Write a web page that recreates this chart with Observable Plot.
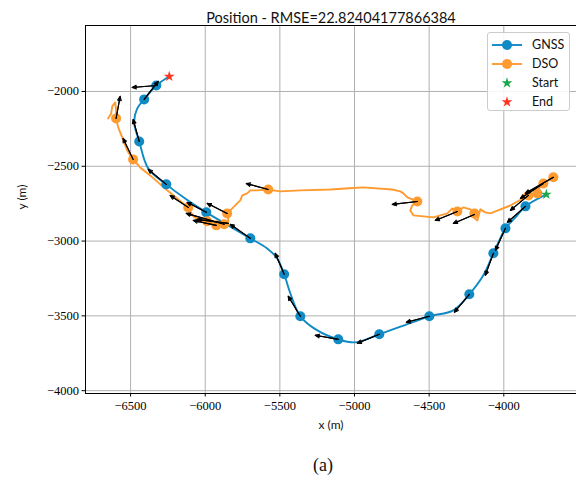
<!DOCTYPE html>
<html>
<head>
<meta charset="utf-8">
<script src="https://cdn.jsdelivr.net/npm/d3@7"></script>
<script src="https://cdn.jsdelivr.net/npm/@observablehq/plot@0.6"></script>
<style>
  body { margin: 0; background: white; }
  #wrap { position: relative; width: 576px; height: 486px; }
  #legend { position: absolute; left: 487px; top: 32px; width: 83px; height: 79px;
    border: 1px solid #cccccc; border-radius: 3px; background: rgba(255,255,255,0.85);
    font-family: Lato, sans-serif; font-size: 12.5px; color: #111; box-sizing: border-box; }
  .row { position: absolute; left: 0; height: 18px; width: 100%; }
  .row svg { position: absolute; left: 3px; top: 0; }
  .row span { position: absolute; left: 44px; top: 1px; line-height: 16px; }
</style>
</head>
<body>
<div id="wrap"></div>
<script>
// ---- data (metres) ----
const xTicks = [-6500, -6000, -5500, -5000, -4500, -4000];
const yTicks = [-4000, -3500, -3000, -2500, -2000];
const xDomain = [-6802, -3513];
const yDomain = [-4019, -1559];

const gnssX = [-3715,-3855,-3922,-3989,-4030,-4070,-4137,-4231,-4338,-4499,-4666,-4834,-4995,-5109,-5249,-5363,-5430,-5471,-5518,-5585,-5698,-5846,-5993,-6127,-6261,-6382,-6442,-6476,-6456,-6409,-6328,-6241];
const gnssY = [-2688,-2768,-2842,-2915,-2995,-3082,-3229,-3356,-3463,-3503,-3563,-3623,-3677,-3657,-3597,-3503,-3349,-3222,-3116,-3049,-2982,-2895,-2808,-2721,-2621,-2514,-2334,-2207,-2114,-2053,-1960,-1900];
const gnssMarkX = [-3855,-3989,-4070,-4231,-4499,-4834,-5109,-5363,-5471,-5698,-5993,-6261,-6442,-6409,-6328];
const gnssMarkY = [-2768,-2915,-3082,-3356,-3503,-3623,-3657,-3503,-3222,-2982,-2808,-2621,-2334,-2053,-1960];

const dsoX = [-3668,-3735,-3775,-3775,-3835,-3956,-4056,-4090,-4124,-4157,-4177,-4211,-4197,-4224,-4271,-4311,-4345,-4378,-4472,-4606,-4626,-4613,-4579,-4646,-4673,-4693,-4747,-4941,-5008,-5162,-5363,-5497,-5578,-5652,-5698,-5719,-5752,-5765,-5786,-5812,-5853,-5846,-5846,-5873,-5926,-5953,-5987,-6034,-6080,-6114,-6255,-6369,-6436,-6483,-6523,-6556,-6583,-6597,-6597,-6603,-6623,-6630,-6650];
const dsoY = [-2574,-2615,-2661,-2681,-2695,-2762,-2802,-2815,-2808,-2788,-2862,-2835,-2815,-2788,-2775,-2802,-2782,-2815,-2842,-2828,-2795,-2762,-2735,-2708,-2681,-2668,-2655,-2641,-2645,-2655,-2661,-2668,-2655,-2661,-2661,-2681,-2695,-2728,-2748,-2775,-2815,-2842,-2882,-2888,-2895,-2882,-2868,-2862,-2835,-2775,-2661,-2561,-2508,-2454,-2394,-2307,-2240,-2180,-2127,-2073,-2100,-2147,-2180];
const dsoMarkX = [-3668,-3735,-3775,-3835,-4197,-4311,-4579,-5578,-5853,-5873,-5926,-5987,-6114,-6483,-6597];
const dsoMarkY = [-2574,-2615,-2681,-2695,-2815,-2802,-2735,-2655,-2815,-2888,-2895,-2868,-2775,-2454,-2180];

// heading arrows (tail -> head)
const arrX1 = [-6328,-6409,-6597,-6442,-6483,-6261,-6114,-5993,-5853,-5873,-5926,-5846,-5698,-5578,-5471,-5363,-5109,-4834,-4499,-4231,-4070,-3989,-3855,-3835,-3668,-3735,-4579,-4311,-4197];
const arrY1 = [-1960,-2053,-2180,-2334,-2454,-2621,-2775,-2808,-2815,-2888,-2895,-2882,-2982,-2655,-3222,-3503,-3657,-3623,-3503,-3356,-3082,-2915,-2768,-2695,-2574,-2615,-2735,-2802,-2822];
const arrX2 = [-6489,-6315,-6570,-6483,-6550,-6382,-6235,-6121,-5987,-6127,-6080,-6054,-5832,-5725,-5531,-5444,-5263,-4981,-4653,-4331,-4124,-4056,-3976,-3956,-3855,-3889,-4747,-4459,-4338];
const arrY2 = [-1973,-1933,-2033,-2187,-2314,-2521,-2695,-2741,-2748,-2815,-2862,-2855,-2888,-2615,-3082,-3369,-3630,-3683,-3543,-3476,-3229,-3062,-2875,-2795,-2681,-2715,-2755,-2862,-2882];

const startPt = [-3715, -2688];
const endPt = [-6241, -1900];

const title = "Position - RMSE=22.82404177866384";
const xLabel = "x (m)";
const yLabel = "y (m)";
const caption = "(a)";
const legendLabels = ["GNSS", "DSO", "Start", "End"];

// ---- colours ----
const BLUE = "#0f8ac4", ORANGE = "#ff9a2f", GREEN = "#1aa64a", RED = "#ff3322";

const gnss = gnssX.map((x, i) => ({x, y: gnssY[i]}));
const gnssM = gnssMarkX.map((x, i) => ({x, y: gnssMarkY[i]}));
const dso = dsoX.map((x, i) => ({x, y: dsoY[i]}));
const dsoM = dsoMarkX.map((x, i) => ({x, y: dsoMarkY[i]}));
const arrows = arrX1.map((x1, i) => ({x1, y1: arrY1[i], x2: arrX2[i], y2: arrY2[i]}));

const fmt = d3.format("d");
const serif = "'Liberation Serif', serif";
const sans = "Lato, sans-serif";

const chart = Plot.plot({
  width: 576, height: 486,
  marginTop: 25, marginBottom: 93, marginLeft: 85, marginRight: 0,
  x: {domain: xDomain},
  y: {domain: yDomain},
  style: {background: "white", overflow: "visible"},
  marks: [
    Plot.gridX(xTicks, {stroke: "#b0b0b0", strokeOpacity: 1, strokeWidth: 1}),
    Plot.gridY(yTicks, {stroke: "#b0b0b0", strokeOpacity: 1, strokeWidth: 1}),
    Plot.line(gnss, {x: "x", y: "y", stroke: BLUE, strokeWidth: 1.9, curve: "catmull-rom"}),
    Plot.line(dso, {x: "x", y: "y", stroke: ORANGE, strokeWidth: 1.9, curve: "linear"}),
    Plot.dot(gnssM, {x: "x", y: "y", r: 5, fill: BLUE}),
    Plot.dot(dsoM, {x: "x", y: "y", r: 5, fill: ORANGE}),
    Plot.arrow(arrows, {x1: "x1", y1: "y1", x2: "x2", y2: "y2", stroke: "black", strokeWidth: 1.1, headLength: 6, headAngle: 50}),
    Plot.arrow(arrows, {x1: "x1", y1: "y1", x2: "x2", y2: "y2", stroke: "black", strokeWidth: 1.1, headLength: 6, headAngle: 25}),
    Plot.dot([startPt], {x: d => d[0], y: d => d[1], symbol: "star", r: 3.4, fill: GREEN}),
    Plot.dot([endPt], {x: d => d[0], y: d => d[1], symbol: "star", r: 3.4, fill: RED}),
    Plot.ruleY([yDomain[0]], {stroke: "black", strokeWidth: 1}),
    Plot.ruleY([yDomain[1]], {stroke: "black", strokeWidth: 1}),
    Plot.ruleX([xDomain[0]], {stroke: "black", strokeWidth: 1}),
    Plot.axisX({ticks: xTicks, tickFormat: fmt, label: null, fontFamily: serif, fontSize: 12.5, tickSize: 3.5, tickPadding: 4}),
    Plot.axisY({ticks: yTicks, tickFormat: fmt, label: null, fontFamily: serif, fontSize: 12.5, tickSize: 3.5, tickPadding: 3}),
    Plot.text([title], {frameAnchor: "top", dy: -13, fontFamily: sans, fontSize: 14.5, fill: "#111"}),
    Plot.text([xLabel], {frameAnchor: "bottom", dy: 35, fontFamily: sans, fontSize: 12, fill: "#111"}),
    Plot.text([yLabel], {frameAnchor: "left", dx: -63, rotate: -90, fontFamily: sans, fontSize: 12, fill: "#111"}),
    Plot.text([caption], {frameAnchor: "bottom", dy: 77, dx: -8, fontFamily: serif, fontSize: 18, fill: "#111"})
  ]
});
document.getElementById("wrap").appendChild(chart);

// ---- legend ----
const legend = document.createElement("div");
legend.id = "legend";
const starPath = d3.symbol(d3.symbolStar, 36)();
const rowsSpec = [
  {label: legendLabels[0], kind: "line", color: BLUE},
  {label: legendLabels[1], kind: "line", color: ORANGE},
  {label: legendLabels[2], kind: "star", color: GREEN},
  {label: legendLabels[3], kind: "star", color: RED}
];
rowsSpec.forEach((r, i) => {
  const row = document.createElement("div");
  row.className = "row";
  row.style.top = (2.5 + i * 19.3) + "px";
  let sw;
  if (r.kind === "line") {
    sw = `<svg width="32" height="18"><line x1="1" y1="9" x2="31" y2="9" stroke="${r.color}" stroke-width="1.9"/><circle cx="16" cy="9" r="5" fill="${r.color}"/></svg>`;
  } else {
    sw = `<svg width="32" height="18"><path transform="translate(16,9)" d="${starPath}" fill="${r.color}"/></svg>`;
  }
  row.innerHTML = sw + `<span>${r.label}</span>`;
  legend.appendChild(row);
});
document.getElementById("wrap").appendChild(legend);
</script>
</body>
</html>
